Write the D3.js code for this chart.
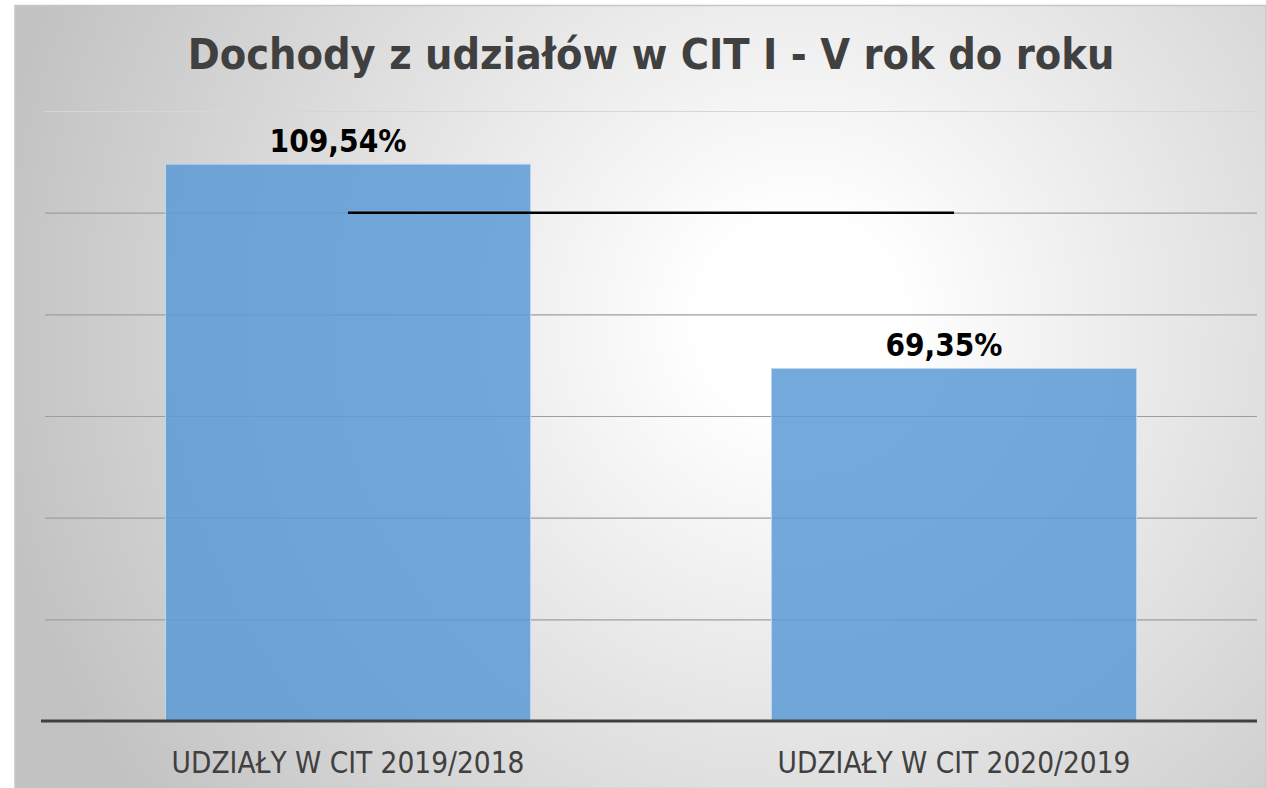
<!DOCTYPE html>
<html><head><meta charset="utf-8">
<script src="https://cdn.jsdelivr.net/npm/d3@7"></script>
<style>html,body{margin:0;padding:0;background:#fff;}svg{display:block;}</style>
</head><body>
<script>
const categories = ["UDZIAŁY W CIT 2019/2018", "UDZIAŁY W CIT 2020/2019"];
const values = [109.54, 69.35];
const refLine = [100, 100];
const labels = ["109,54%", "69,35%"];
const yTicks = [0, 20, 40, 60, 80, 100, 120];
const title = "Dochody z udziałów w CIT I - V rok do roku";

const W = 1266, H = 788;
const svg = d3.select("body").append("svg").attr("width", W).attr("height", H);
const defs = svg.append("defs");
const rg = defs.append("radialGradient").attr("id","bg")
  .attr("gradientUnits","userSpaceOnUse").attr("cx",800).attr("cy",320).attr("r",820);
rg.append("stop").attr("offset",0).attr("stop-color","#ffffff");
rg.append("stop").attr("offset",0.12).attr("stop-color","#ffffff");
rg.append("stop").attr("offset",1).attr("stop-color","#c2c2c2");

svg.append("rect").attr("x",15).attr("y",5.5).attr("width",W-15).attr("height",H-5)
  .attr("fill","url(#bg)").attr("stroke","#c6c6c6").attr("stroke-width",1.5);

const plot = {left:45, right:1257, top:111, bottom:721};
const x = d3.scaleBand().domain(categories).range([plot.left, plot.right])
  .paddingInner(0.3977).paddingOuter(0.3977/2);
const y = d3.scaleLinear().domain([0,120]).range([plot.bottom, plot.top]);

const condensed = "'DejaVu Sans Condensed','DejaVu Sans',sans-serif";

// gridlines
const grid = d3.axisLeft(y).tickValues(yTicks.filter(t=>t>0)).tickSize(-(plot.right-plot.left)).tickFormat("");
const gg = svg.append("g").attr("transform",`translate(${plot.left},0)`).call(grid);
gg.select(".domain").remove();
gg.selectAll(".tick line").attr("stroke", d => d===120 ? "#d6d6d6" : "#9e9e9e").attr("stroke-width",1.2);

// bars
svg.append("g").selectAll("rect").data(values).join("rect")
  .attr("x",(d,i)=>x(categories[i])).attr("width",x.bandwidth())
  .attr("y",d=>y(d)).attr("height",d=>y(0)-y(d))
  .attr("fill","#5B9BD5").attr("fill-opacity",0.85)
  .attr("stroke","#bcd6ee").attr("stroke-width",1);

// baseline axis
const xa = d3.axisBottom(x).tickSize(0).tickPadding(0);
const ag = svg.append("g").attr("transform",`translate(0,${y(0)})`).call(xa);
ag.select(".domain").attr("stroke","#404040").attr("stroke-width",3.2)
  .attr("d",`M${plot.left-4},0H${plot.right}`);
ag.selectAll(".tick text").attr("dy",null).attr("y",52)
  .attr("font-family",condensed)
  .attr("font-size",29).attr("fill","#404040").attr("text-anchor","middle")
  .text(d=>d);

// reference line
const line = d3.line().x((d,i)=>x(categories[i])+x.bandwidth()/2).y(d=>y(d));
svg.append("path").datum(refLine).attr("d",line).attr("fill","none")
  .attr("stroke","#000").attr("stroke-width",2.5);

// data labels
const lab = svg.append("g").selectAll("text").data(values).join("text")
  .attr("x",(d,i)=>x(categories[i])+x.bandwidth()/2 - 10)
  .attr("y",d=>y(d)-12)
  .attr("text-anchor","middle")
  .attr("font-family",condensed).attr("font-weight","bold")
  .attr("font-size",27).attr("fill","#000")
  .text((d,i)=>labels[i]);

// title
const t = svg.append("text").attr("x",651).attr("y",69).attr("text-anchor","middle")
  .attr("font-family",condensed).attr("font-weight","bold")
  .attr("font-size",40).attr("fill","#404040").text(title);
const tw = t.node().getComputedTextLength();
t.attr("font-size", 40*927/tw);
ag.selectAll(".tick text").each(function(){
  const w = this.getComputedTextLength();
  d3.select(this).attr("font-size", 29*353/w);
});
lab.each(function(){
  const w = this.getComputedTextLength();
  const target = this.textContent.length===7 ? 137 : 117;
  d3.select(this).attr("font-size", 27*target/w);
});
</script>
</body></html>
